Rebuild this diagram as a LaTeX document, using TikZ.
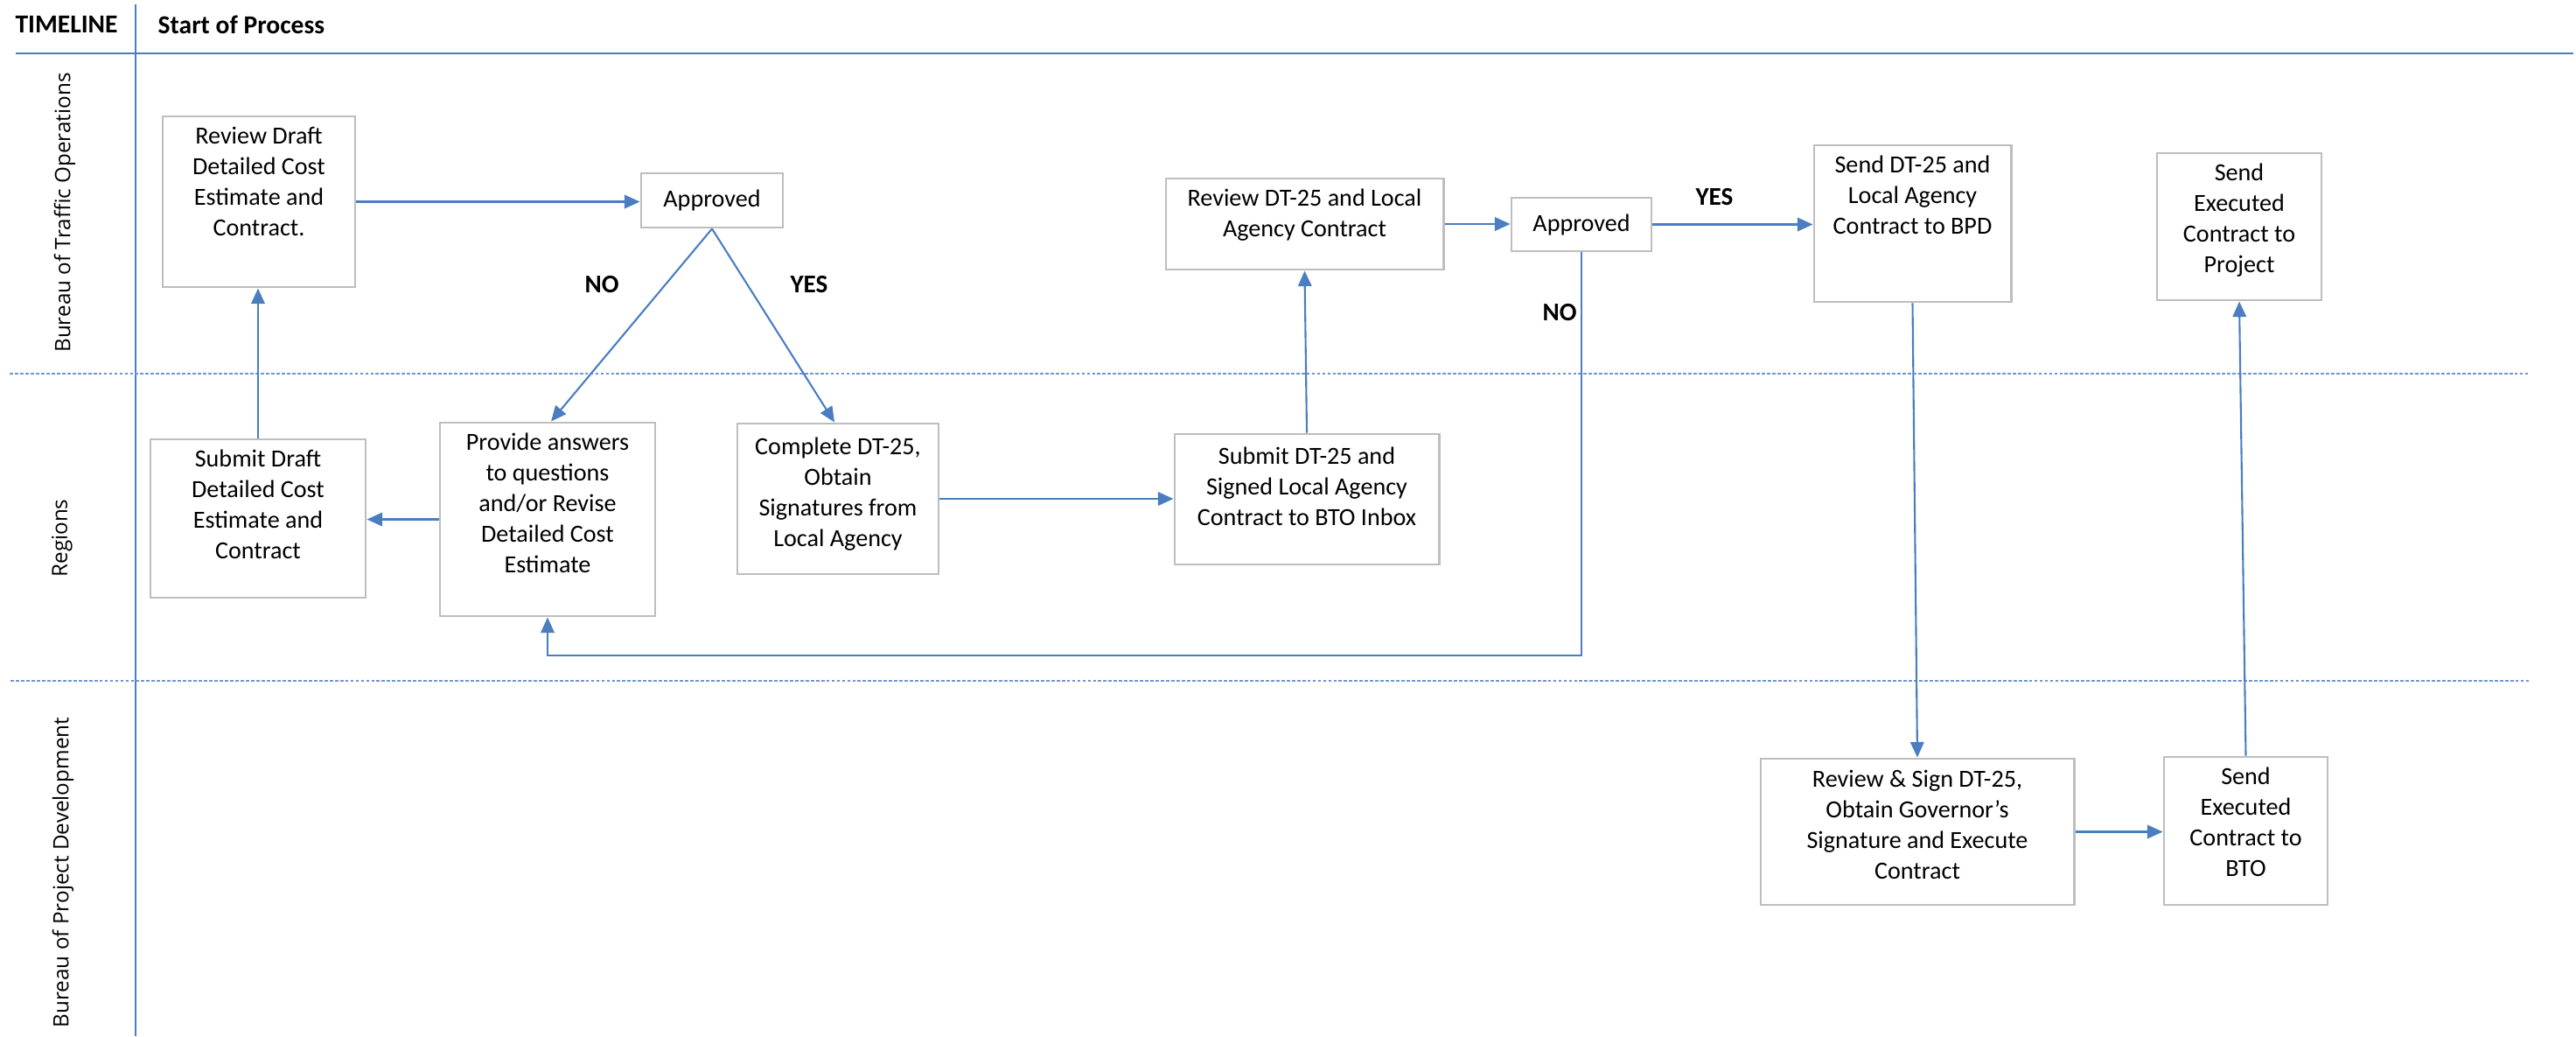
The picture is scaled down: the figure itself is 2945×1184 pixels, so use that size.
\documentclass[tikz,border=0pt]{standalone}
\usepackage{fontspec}
\setmainfont{Carlito}[Ligatures=Common]
\newfontfamily\lanefont{Open Sans}
\usetikzlibrary{arrows.meta,calc}
\definecolor{lineblue}{RGB}{74,126,193}
\definecolor{laneblue}{RGB}{110,150,210}
\definecolor{boxgray}{RGB}{190,190,190}
\newcommand{\boxfont}{\fontsize{8}{9.96}\selectfont}
\newcommand{\hdfont}{\fontsize{8.4}{10}\selectfont\bfseries}
\newcommand{\lblfont}{\fontsize{8.3}{10}\selectfont\bfseries}
\newcommand{\lnfont}{\lanefont\fontsize{6.9}{8}\selectfont}
\begin{document}
\begin{tikzpicture}[x=0.01cm,y=-0.01cm,
  pbox/.style={draw=boxgray, line width=0.8pt, fill=white, inner sep=0pt},
  btxt/.style={font=\boxfont, align=center, anchor=north, inner sep=0pt},
  conn/.style={draw=lineblue, line width=0.6pt, -{Triangle[length=5pt,width=4.4pt]}},
  frame/.style={draw=lineblue, line width=0.8pt},
  lanediv/.style={draw=laneblue, line width=0.7pt, dash pattern=on 1.1pt off 0.6pt},
  lbl/.style={font=\lblfont, inner sep=0pt},
  lane/.style={font=\lnfont, rotate=90, inner sep=0pt}]
\useasboundingbox (0,0) rectangle (2945,1184);

% frame lines
\coordinate (vtop) at (155,5);
\coordinate (vbot) at (155,1184);
\coordinate (hl) at (18,61);
\coordinate (hr) at (2942,61);
\coordinate (d1l) at (11,427);
\coordinate (d1r) at (2890,427);
\coordinate (d2l) at (12,778);
\coordinate (d2r) at (2892,778);
\draw[frame] (vtop) -- (vbot);
\draw[frame] (hl) -- (hr);
\draw[lanediv] (d1l) -- (d1r);
\draw[lanediv] (d2l) -- (d2r);

% header
\node[font=\hdfont, inner sep=0pt] (timeline) at (76,28) {TIMELINE};
\node[font=\hdfont, inner sep=0pt, anchor=west] (start) at (180,28) {Start of Process};

% lane labels
\node[lane] (lane1) at (74,243) {Bureau of Traffic Operations};
\node[lane] (lane2) at (71,615) {Regions};
\node[lane] (lane3) at (72,997) {Bureau of Project Development};

% boxes
\node[pbox, minimum width=2.20cm, minimum height=1.95cm] (rd) at (296,230.5) {};
\node[btxt] (rdt1) at ([yshift=-0.13cm]rd.north) {Review Draft\\Detailed Cost\\Estimate and\\Contract.};

\node[pbox, minimum width=1.62cm, minimum height=0.62cm, font=\boxfont] (ap1) at (814,229) {Approved};

\node[pbox, minimum width=2.46cm, minimum height=1.81cm] (sd) at (295,592.5) {};
\node[btxt] (sdt1) at ([yshift=-0.13cm]sd.north) {Submit Draft\\Detailed Cost\\Estimate and\\Contract};

\node[pbox, minimum width=2.46cm, minimum height=2.21cm] (prov) at (626,593.5) {};
\node[btxt] (provt) at ([yshift=-0.13cm]prov.north) {Provide answers\\to questions\\and/or Revise\\Detailed Cost\\Estimate};

\node[pbox, minimum width=2.30cm, minimum height=1.72cm] (comp) at (958,570) {};
\node[btxt] (compt) at ([yshift=-0.17cm]comp.north) {Complete DT-25,\\Obtain\\Signatures from\\Local Agency};

\node[pbox, minimum width=3.02cm, minimum height=1.49cm] (sdt) at (1494,570.5) {};
\node[btxt] (sdtt) at ([yshift=-0.16cm]sdt.north) {Submit DT-25 and\\Signed Local Agency\\Contract to BTO Inbox};

\node[pbox, minimum width=3.17cm, minimum height=1.04cm] (rdt) at (1491.5,256) {};
\node[btxt] (rdtt) at ([yshift=-0.13cm]rdt.north) {Review DT-25 and Local\\Agency Contract};

\node[pbox, minimum width=1.60cm, minimum height=0.61cm, font=\boxfont] (ap2) at (1808,256.5) {Approved};

\node[pbox, minimum width=2.25cm, minimum height=1.79cm] (send) at (2186.5,255.5) {};
\node[btxt] (sendt) at ([yshift=-0.13cm]send.north) {Send DT-25 and\\Local Agency\\Contract to BPD};

\node[pbox, minimum width=1.88cm, minimum height=1.68cm] (sep) at (2560,259) {};
\node[btxt] (sept) at ([yshift=-0.13cm]sep.north) {Send\\Executed\\Contract to\\Project};

\node[pbox, minimum width=3.58cm, minimum height=1.67cm] (rs) at (2192,950.5) {};
\node[btxt] (rst) at ([yshift=-0.14cm]rs.north) {Review \& Sign DT-25,\\Obtain Governor's\\Signature and Execute\\Contract};

\node[pbox, minimum width=1.87cm, minimum height=1.69cm] (bto) at (2567.5,949.5) {};
\node[btxt] (btot) at ([yshift=-0.13cm]bto.north) {Send\\Executed\\Contract to\\BTO};

% labels
\node[lbl] (no1) at (688,325) {NO};
\node[lbl] (yes1) at (925,325) {YES};
\node[lbl] (no2) at (1783,357) {NO};
\node[lbl] (yes2) at (1960,225) {YES};

% connectors
\draw[conn] (rd.east) -- (rd.east -| ap1.west);
\draw[conn] (ap1.south) -- ([xshift=0.04cm]prov.north);
\draw[conn] (ap1.south) -- ([xshift=-0.04cm]comp.north);
\draw[conn] (prov.west) -- (prov.west -| sd.east);
\draw[conn] (sd.north) -- (sd.north |- rd.south);
\draw[conn] (comp.east) -- (comp.east -| sdt.west);
\draw[conn] (sdt.north) -- (rdt.south);
\draw[conn] (rdt.east) -- (rdt.east -| ap2.west);
\draw[conn] (ap2.east) -- (ap2.east -| send.west);
\coordinate (loop) at (1808,749);
\draw[conn] (ap2.south) -- (loop) -| (prov.south);
\draw[conn] (send.south) -- (rs.north);
\draw[conn] (rs.east) -- (rs.east -| bto.west);
\draw[conn] (bto.north) -- (sep.south);
\end{tikzpicture}
\end{document}
